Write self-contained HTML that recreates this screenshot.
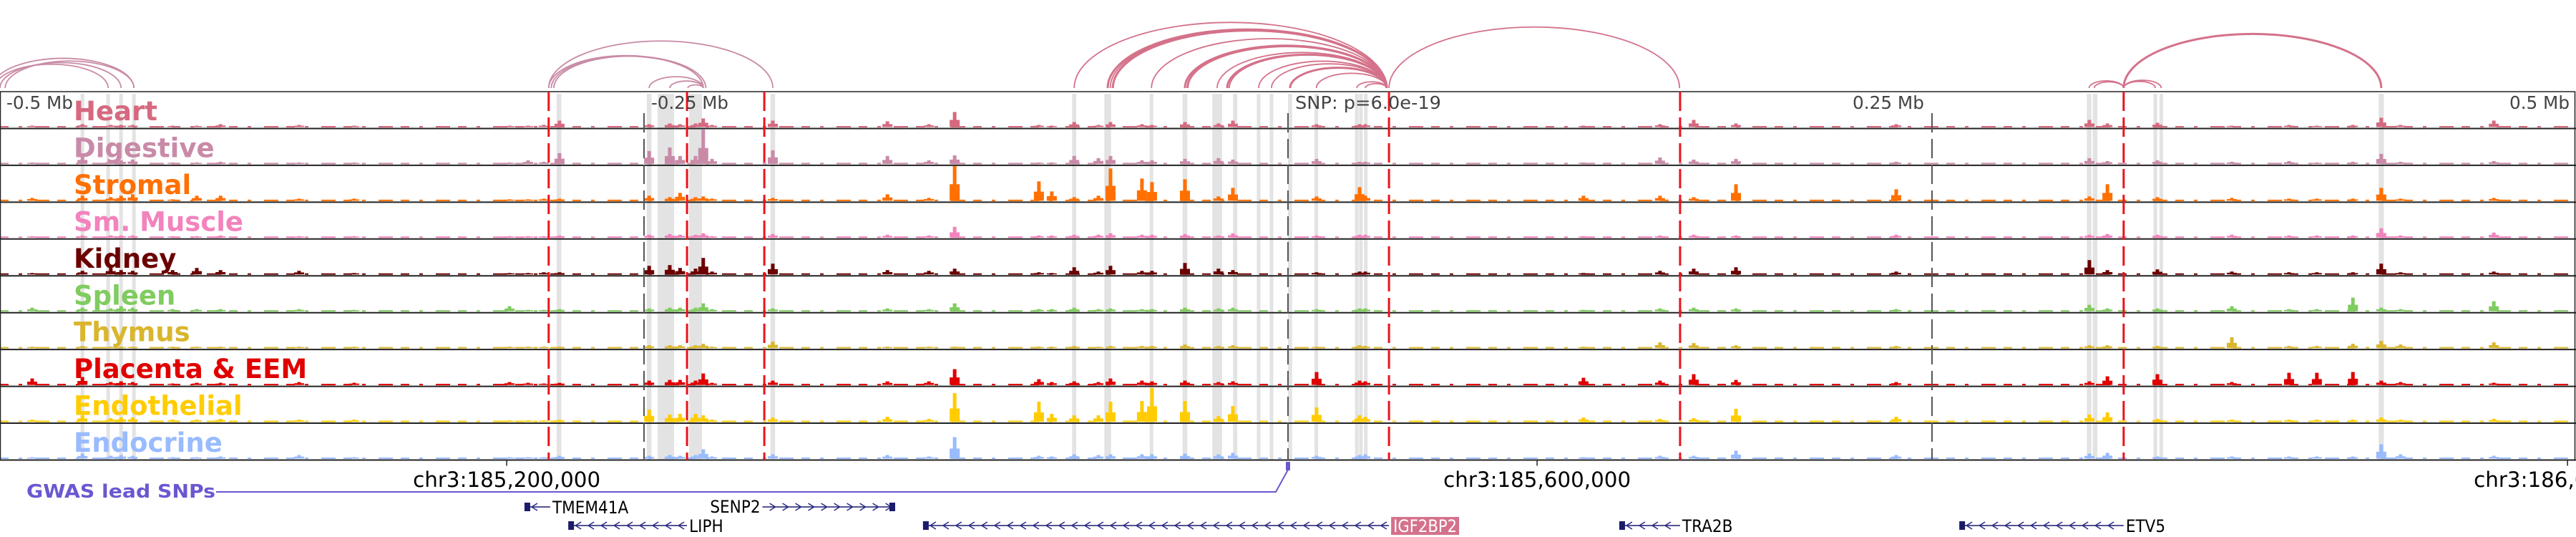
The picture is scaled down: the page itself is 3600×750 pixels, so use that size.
<!DOCTYPE html>
<html><head><meta charset="utf-8">
<style>
html,body{margin:0;padding:0;background:#fff;}
svg{display:block;}
text{font-family:"DejaVu Sans Condensed","DejaVu Sans","Liberation Sans",sans-serif;}
</style></head>
<body>
<svg id="chart" width="3600" height="750" viewBox="0 0 3600 750" xmlns="http://www.w3.org/2000/svg">
  <g id="bands"></g>
  <g id="arcs"></g>
  <g id="tracks"></g>
  <g id="vlines"></g>
  <g id="axis"></g>
  <g id="genes"></g>
  <g id="gwas"></g>
</svg>
<script>
// ---------- data (kb relative to lead SNP) ----------
const trackNames = ["Heart","Digestive","Stromal","Sm. Muscle","Kidney","Spleen","Thymus","Placenta & EEM","Endothelial","Endocrine"];
const trackColors = ["#d6697f","#c98aa8","#ff7000","#f283bd","#6b0000","#80cc60","#d9b62e","#e00000","#ffcc00","#99bbff"];
const redLinesKb = [-287, -233.3, -203.3, 39.2, 152.2, 324.4];
const grayLinesKb = [-250, 0, 250];
const bandsKb = [[-468,1.4],[-458,1.4],[-453,1.4],[-448,1.4],[-283,1.8],[-248,1.8],[-241.5,6.4],[-230,5],[-200,1.8],[-83,1.6],[-70,2.6],[-53,1.4],[-40,1.8],[-27.5,3.8],[-20.5,1.6],[-11.4,1.4],[-6.4,1.4],[0.8,1.6],[11,1.4],[26.7,1.4],[28.3,1.4],[30.2,1.4],[311,1.8],[313.3,1.8],[336.7,1.4],[339,1.4],[424.4,2]];
const tickLabels = ["-0.5 Mb","-0.25 Mb","SNP: p=6.0e-19","0.25 Mb","0.5 Mb"];
const axisTicksKb = [-303.3, 96.7, 496.7];
const axisTickLabels = ["chr3:185,200,000","chr3:185,600,000","chr3:186,000,000"];
// arcs: [startKb, endKb, style(0 light,1 dark,2 dark-thick)]
const arcStarts = [-502,-500,-498,-503,-287,-286,-285,-287,-248,-240,-233,-83,-70,-69,-68,-53,-40,-39,-27.5,-23.6,-22.8,-11.4,-6.4,0.8,11,26.7,30,39.2,311,313,324.4,324.4,324.4];
const arcEnds   = [-458,-453,-448,-448,-227,-227,-226,-200,-227,-227,-227,38.3,38.3,38.3,38.3,38.3,38.3,38.3,38.3,38.3,38.3,38.3,38.3,38.3,38.3,38.3,38.3,152,324.4,324.4,336.7,339,424.4];
const arcStyles = [0,0,0,0,0,0,0,0,0,0,0,1,2,1,2,1,2,2,1,2,1,1,1,2,1,1,1,1,1,1,1,1,2];
// peaks: positions (kb) and per-track heights (px-like signal units)
const peakPos = [-487.5,-468,-457,-453,-448.5,-433,-423.6,-414.4,-383.9,-362.5,-302.2,-295,-288.9,-282.8,-248,-240,-236,-230,-227,-223.6,-200,-155.5,-139.4,-129.4,-96.7,-91.7,-83,-73.6,-68.9,-56.7,-52.8,-40,-27,-21.4,11.1,27.8,30,114.7,144.4,157.5,173.9,236.1,311.1,318.1,337.5,366.4,388.6,399.4,413.4,424.4,431.9,468.1];
const hHeart  = [1,3,2,2,2,1,1,3,2,1,1,1,2,8,3,4,3,4,11,2,8,7,3,20,2,1,6,2,6,3,2,6,4,8,3,3,3,1,3,9,4,3,9,4,5,1,2,1,2,12,2,8];
const hDig    = [1,10,3,4,5,1,1,2,1,1,1,4,2,14,17,22,10,10,47,6,18,10,4,11,1,1,10,7,10,4,4,6,7,5,6,2,2,1,8,5,6,2,7,3,4,2,3,1,2,13,2,3];
const hStrom  = [3,6,4,6,8,1,6,6,2,2,1,1,2,2,6,4,10,4,5,2,3,8,3,49,26,12,4,6,44,30,25,29,5,17,5,18,6,6,6,4,22,15,5,22,4,3,2,2,2,17,2,3];
const hSmM    = [1,2,2,2,2,1,1,2,1,1,1,1,1,2,3,4,3,3,5,1,4,3,2,14,2,2,3,3,5,3,3,4,2,5,2,3,3,1,2,3,2,3,3,4,3,3,2,2,2,12,2,6];
const hKid    = [1,4,8,5,4,5,8,5,4,1,1,1,2,2,11,12,8,7,22,3,14,5,4,7,2,1,9,3,11,4,4,15,7,5,2,3,3,1,4,7,9,3,19,5,6,3,2,2,2,14,2,3];
const hSpl    = [4,4,3,6,4,2,2,2,2,1,6,1,1,2,3,4,4,4,10,2,3,3,2,10,2,2,4,2,3,2,2,4,3,4,2,3,3,1,3,4,3,2,8,3,3,6,2,2,18,4,2,13];
const hThy    = [1,2,1,1,1,1,1,1,1,1,1,1,1,1,3,3,3,3,5,1,8,1,1,1,1,1,2,1,2,2,2,4,2,3,1,3,2,1,7,6,3,2,3,3,2,14,2,2,5,9,4,7];
const hPla    = [8,10,3,4,3,1,2,2,3,2,3,2,1,2,5,6,6,5,15,2,5,4,4,21,7,3,4,3,8,5,4,5,3,4,17,5,4,9,5,14,6,3,4,11,14,3,16,16,17,5,3,2];
const hEndo   = [2,8,4,5,5,2,2,3,2,2,1,1,1,2,16,9,10,10,8,2,5,6,3,39,27,10,8,8,27,28,46,28,7,21,19,8,6,5,3,4,17,6,9,12,3,2,2,2,2,5,2,3];
const hEndoc  = [1,6,3,4,3,1,1,2,4,1,1,1,1,3,3,4,3,4,12,2,5,4,2,29,3,2,5,4,5,5,5,6,5,7,3,4,5,1,3,3,10,4,6,7,2,2,2,2,2,19,5,3];
const trackHeights = [hHeart,hDig,hStrom,hSmM,hKid,hSpl,hThy,hPla,hEndo,hEndoc];
// genes
const geneNames  = ["TMEM41A","SENP2","LIPH","IGF2BP2","TRA2B","ETV5"];
const geneStart  = [-296.4,-204,-279.4,-141.7,128.6,260.6];
const geneEnd    = [-286.4,-152.5,-233.3,39.2,152.2,324.4];
const geneStrand = [-1,1,-1,-1,-1,-1];
const geneRow    = [0,0,1,1,1,1];
const snpKb = [0];

// ---------- scales ----------
const NS="http://www.w3.org/2000/svg";
const W=3600, PX_PER_KB=3.6;
const xs = kb => 1800 + kb*PX_PER_KB;
const TRACK_TOP=128, TRACK_H=51.45, NT=10, TRACK_BOTTOM=TRACK_TOP+TRACK_H*NT;
const trackBase = i => TRACK_TOP + (i+1)*TRACK_H - 3;
const ys = (i,v) => trackBase(i) - Math.min(v,TRACK_H-4);
function mk(tag, attrs, parent){const e=document.createElementNS(NS,tag);for(const k in attrs)e.setAttribute(k,attrs[k]);parent.appendChild(e);return e;}

// bands
const gB=document.getElementById('bands');
bandsKb.forEach(b=>{
  const r=mk('rect',{x:xs(b[0])-b[1]*PX_PER_KB/2,y:TRACK_TOP+3,width:b[1]*PX_PER_KB,height:TRACK_BOTTOM-TRACK_TOP-3,fill:'#e3e3e3'},gB);
  
  
});

// arcs
const gA=document.getElementById('arcs');
const ARC_BASE=123;
arcStarts.forEach((s,i)=>{
  const x1=xs(s), x2=xs(arcEnds[i]); const w=x2-x1; const h=w*0.21;
  const st=arcStyles[i];
  const p=mk('path',{d:`M${x1},${ARC_BASE} A${w/2},${h} 0 0 1 ${x2},${ARC_BASE}`,fill:'none',
    stroke: st===0?'#c98aa6':'#d4728a','stroke-width':st===2?3:1.8},gA);
  
  
});

// tracks
const gT=document.getElementById('tracks');
trackNames.forEach((name,i)=>{
  const g=mk('g',{},gT);
  
  
  const col=trackColors[i];
  const base=trackBase(i);
  const bl=mk('line',{x1:0,x2:W,y1:base+0.5,y2:base+0.5,stroke:col,'stroke-width':2,'stroke-dasharray':'12 14 5 18 20 11'},g);
  
  
  peakPos.forEach((kb,j)=>{
    const v=trackHeights[i][j]; const x=xs(kb);
    const y=ys(i,v);
    const bar=mk('rect',{x:x-2.5,y:y,width:5,height:base+1-y,fill:col},g);
    
    
    const ys2=ys(i,v*0.45);
    const sh=mk('rect',{x:x-7,y:ys2,width:14,height:base+1-ys2,fill:col},g);
    
    
  });
  const t=mk('text',{x:103,y:TRACK_TOP+i*TRACK_H+40,fill:col,'font-size':37,'font-weight':'bold'},g);
  
  
  t.style.fontFamily='"DejaVu Sans","Liberation Sans",sans-serif';
  t.textContent=name;
  const sep=mk('line',{x1:0,x2:W,y1:TRACK_TOP+(i+1)*TRACK_H,y2:TRACK_TOP+(i+1)*TRACK_H,stroke:'#222','stroke-width':2},g);
  
  
});
const frame=mk('rect',{x:0.5,y:TRACK_TOP,width:W-2,height:TRACK_BOTTOM-TRACK_TOP,fill:'none',stroke:'#222','stroke-width':1.5},gT);



// marker lines
const gV=document.getElementById('vlines');
redLinesKb.forEach(kb=>{
  const l=mk('line',{x1:xs(kb),x2:xs(kb),y1:TRACK_TOP,y2:TRACK_BOTTOM,stroke:'#e8141c','stroke-width':3,'stroke-dasharray':'27 9'},gV);
  
  
});
grayLinesKb.forEach(kb=>{
  const l=mk('line',{x1:xs(kb),x2:xs(kb),y1:TRACK_TOP+30,y2:TRACK_BOTTOM,stroke:'#555','stroke-width':2,'stroke-dasharray':'27 9'},gV);
  
  
});
const tlX=[9,910,1810,2689,3591], tlAnchor=['start','start','start','end','end'], tlW=[93,108,204,100,84];
tickLabels.forEach((s,i)=>{
  const t=mk('text',{x:tlX[i],y:152,'font-size':25,fill:'#444','text-anchor':tlAnchor[i],textLength:tlW[i],lengthAdjust:'spacingAndGlyphs'},gV);
  
  
  t.textContent=s;
});

// axis
const gX=document.getElementById('axis');
axisTicksKb.forEach((kb,i)=>{
  const x=xs(kb);
  const tk=mk('line',{x1:x,x2:x,y1:TRACK_BOTTOM,y2:TRACK_BOTTOM+8,stroke:'#222','stroke-width':1.5},gX);
  
  
  const t=mk('text',{x:x,y:680,'font-size':29,fill:'#000','text-anchor':'middle',textLength:262,lengthAdjust:'spacingAndGlyphs'},gX);
  
  
  t.textContent=axisTickLabels[i];
});

// gwas
const gG=document.getElementById('gwas');
const gl=mk('text',{x:37,y:695,'font-size':26,'font-weight':'bold',fill:'#6a58d0',textLength:264,lengthAdjust:'spacingAndGlyphs'},gG);


gl.textContent='GWAS lead SNPs';
snpKb.forEach(kb=>{
  const x=xs(kb);
  const pl=mk('polyline',{points:`302,687 ${x-17},687 ${x},656`,fill:'none',stroke:'#6a58d0','stroke-width':2},gG);
  
  
  const r=mk('rect',{x:x-3,y:645,width:6,height:12,fill:'#6a58d0'},gG);
  
  
});

// genes
const gN=document.getElementById('genes');
const rowY=[708,734];
geneNames.forEach((n,i)=>{
  const g=mk('g',{},gN);
  
  
  const x1=xs(geneStart[i]), x2=xs(geneEnd[i]), y=rowY[geneRow[i]];
  mk('line',{x1:x1,x2:x2,y1:y,y2:y,stroke:'#1c1c6b','stroke-width':1.5},g);
  const dir=geneStrand[i];
  for(let x=x1+14;x<x2-6;x+=18){
    mk('polyline',{points:`${x-4*dir},${y-5} ${x+4*dir},${y} ${x-4*dir},${y+5}`,fill:'none',stroke:'#2a2a8a','stroke-width':1.5},g);
  }
  const rx = dir<0? x1 : x2-8;
  mk('rect',{x:rx,y:y-6,width:8,height:12,fill:'#1c1c6b'},g);
  let t;
  if(n==='SENP2'){
    t=mk('text',{x:x1-3,y:y+8,'font-size':24,fill:'#000','text-anchor':'end'},g);
  } else if(n==='IGF2BP2'){
    mk('rect',{x:x2+3,y:y-12,width:95,height:25,fill:'#d4728a'},g);
    t=mk('text',{x:x2+6,y:y+9,'font-size':24,fill:'#fff',textLength:89,lengthAdjust:'spacingAndGlyphs'},g);
  } else {
    t=mk('text',{x:x2+3,y:y+9,'font-size':24,fill:'#000'},g);
  }
  t.textContent=n;
});
</script>
</body></html>
